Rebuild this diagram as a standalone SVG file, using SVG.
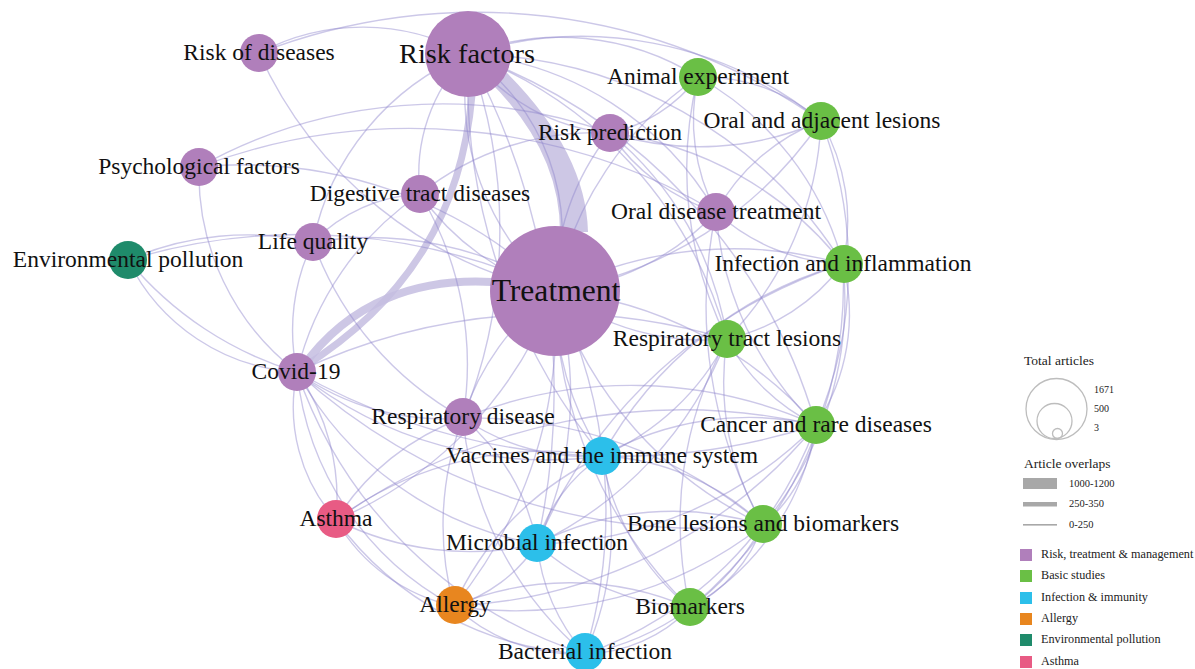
<svg xmlns="http://www.w3.org/2000/svg" width="1195" height="669" viewBox="0 0 1195 669">
<style>
.e{fill:none;stroke:#8d84cc;stroke-opacity:0.45;stroke-width:1.4}
.t{fill:none;stroke:#c4bde0;stroke-opacity:0.85}
.p{fill:#b07fbb}
.g{fill:#6abf45}
.c{fill:#2cbfea}
.o{fill:#e8861f}
.d{fill:#1f8b6b}
.k{fill:#e85b84}
.l{font-family:"Liberation Serif","Times New Roman",serif;font-size:23.5px;fill:#111;text-anchor:middle}
.lg{font-family:"Liberation Serif","Times New Roman",serif;fill:#222}
</style>
<rect width="1195" height="669" fill="#fff"/>
<g id="connectors">
<path d="M488 80 Q560 150 560 232 L588 232 Q586 150 502 68 Z" fill="#c4bde0" fill-opacity="0.85"/>
<path class="t" stroke-width="7" d="M472 95 C462 210 410 300 302 368"/>
<path class="t" stroke-width="8" d="M492 282 C420 278 350 300 302 368"/>
<path class="e" d="M259 53 A220 220 0 0 1 468 54"/>
<path class="e" d="M259 53 A600 600 0 0 1 821 121"/>
<path class="e" d="M468 54 A260 260 0 0 1 698 77"/>
<path class="e" d="M468 54 A380 380 0 0 1 821 121"/>
<path class="e" d="M468 54 A450 450 0 0 1 843 264"/>
<path class="e" d="M468 54 A200 200 0 0 0 610 133"/>
<path class="e" d="M468 54 A320 320 0 0 1 716 212"/>
<path class="e" d="M468 54 A420 420 0 0 1 727 339"/>
<path class="e" d="M468 54 A560 560 0 0 1 816 425"/>
<path class="e" d="M468 54 A170 170 0 0 0 420 194"/>
<path class="e" d="M468 54 A260 260 0 0 0 313 242"/>
<path class="e" d="M468 54 A500 500 0 0 1 463 418"/>
<path class="e" d="M468 54 A600 600 0 0 0 602 456"/>
<path class="e" d="M468 54 A700 700 0 0 1 537 544"/>
<path class="e" d="M468 54 A220 220 0 0 1 555 291"/>
<path class="e" d="M468 54 A260 260 0 0 0 555 291"/>
<path class="e" d="M259 53 A420 420 0 0 0 555 291"/>
<path class="e" d="M199 167 A250 250 0 0 0 297 372"/>
<path class="e" d="M199 167 A450 450 0 0 1 555 291"/>
<path class="e" d="M199 167 A500 500 0 0 1 610 133"/>
<path class="e" d="M199 167 A600 600 0 0 1 716 212"/>
<path class="e" d="M128 260 A200 200 0 0 0 297 372"/>
<path class="e" d="M128 260 A350 350 0 0 0 297 372"/>
<path class="e" d="M128 260 A300 300 0 0 1 313 242"/>
<path class="e" d="M128 260 A600 600 0 0 1 555 291"/>
<path class="e" d="M297 372 A170 170 0 0 0 336 520"/>
<path class="e" d="M297 372 A220 220 0 0 1 336 520"/>
<path class="e" d="M297 372 A300 300 0 0 0 454 606"/>
<path class="e" d="M297 372 A400 400 0 0 0 602 456"/>
<path class="e" d="M297 372 A650 650 0 0 0 816 425"/>
<path class="e" d="M297 372 A600 600 0 0 0 763 525"/>
<path class="e" d="M297 372 A340 340 0 0 0 537 544"/>
<path class="e" d="M297 372 A250 250 0 0 0 463 418"/>
<path class="e" d="M297 372 A200 200 0 0 1 313 242"/>
<path class="e" d="M297 372 A450 450 0 0 0 585 654"/>
<path class="e" d="M297 372 A300 300 0 0 1 420 194"/>
<path class="e" d="M297 372 A600 600 0 0 1 727 339"/>
<path class="e" d="M555 291 A350 350 0 0 1 698 77"/>
<path class="e" d="M555 291 A400 400 0 0 0 821 121"/>
<path class="e" d="M555 291 A250 250 0 0 1 610 133"/>
<path class="e" d="M555 291 A250 250 0 0 0 716 212"/>
<path class="e" d="M555 291 A400 400 0 0 1 843 264"/>
<path class="e" d="M555 291 A250 250 0 0 0 727 339"/>
<path class="e" d="M555 291 A400 400 0 0 1 816 425"/>
<path class="e" d="M555 291 A300 300 0 0 0 602 456"/>
<path class="e" d="M555 291 A400 400 0 0 0 763 525"/>
<path class="e" d="M555 291 A350 350 0 0 1 537 544"/>
<path class="e" d="M555 291 A450 450 0 0 1 454 606"/>
<path class="e" d="M555 291 A450 450 0 0 0 690 608"/>
<path class="e" d="M555 291 A500 500 0 0 1 585 654"/>
<path class="e" d="M555 291 A400 400 0 0 1 336 520"/>
<path class="e" d="M555 291 A250 250 0 0 0 463 418"/>
<path class="e" d="M555 291 A350 350 0 0 0 313 242"/>
<path class="e" d="M555 291 A250 250 0 0 1 420 194"/>
<path class="e" d="M336 520 A180 180 0 0 0 454 606"/>
<path class="e" d="M336 520 A330 330 0 0 0 585 654"/>
<path class="e" d="M336 520 A350 350 0 0 1 602 456"/>
<path class="e" d="M336 520 A250 250 0 0 1 463 418"/>
<path class="e" d="M336 520 A300 300 0 0 0 537 544"/>
<path class="e" d="M336 520 A600 600 0 0 1 816 425"/>
<path class="e" d="M454 606 A150 150 0 0 0 537 544"/>
<path class="e" d="M454 606 A300 300 0 0 1 690 608"/>
<path class="e" d="M454 606 A180 180 0 0 0 585 654"/>
<path class="e" d="M454 606 A400 400 0 0 0 763 525"/>
<path class="e" d="M454 606 A500 500 0 0 0 816 425"/>
<path class="e" d="M454 606 A300 300 0 0 1 463 418"/>
<path class="e" d="M454 606 A300 300 0 0 1 602 456"/>
<path class="e" d="M585 654 A150 150 0 0 0 690 608"/>
<path class="e" d="M585 654 A260 260 0 0 0 763 525"/>
<path class="e" d="M585 654 A380 380 0 0 0 816 425"/>
<path class="e" d="M585 654 A200 200 0 0 1 537 544"/>
<path class="e" d="M585 654 A300 300 0 0 0 602 456"/>
<path class="e" d="M585 654 A350 350 0 0 1 463 418"/>
<path class="e" d="M690 608 A150 150 0 0 0 763 525"/>
<path class="e" d="M690 608 A260 260 0 0 0 816 425"/>
<path class="e" d="M690 608 A420 420 0 0 0 843 264"/>
<path class="e" d="M690 608 A250 250 0 0 1 537 544"/>
<path class="e" d="M690 608 A380 380 0 0 1 727 339"/>
<path class="e" d="M690 608 A250 250 0 0 1 602 456"/>
<path class="e" d="M763 525 A150 150 0 0 0 816 425"/>
<path class="e" d="M763 525 A280 280 0 0 1 727 339"/>
<path class="e" d="M763 525 A350 350 0 0 0 843 264"/>
<path class="e" d="M763 525 A450 450 0 0 1 716 212"/>
<path class="e" d="M763 525 A250 250 0 0 0 602 456"/>
<path class="e" d="M763 525 A300 300 0 0 0 537 544"/>
<path class="e" d="M763 525 A450 450 0 0 0 463 418"/>
<path class="e" d="M816 425 A200 200 0 0 0 843 264"/>
<path class="e" d="M816 425 A400 400 0 0 0 821 121"/>
<path class="e" d="M816 425 A300 300 0 0 0 602 456"/>
<path class="e" d="M816 425 A400 400 0 0 1 537 544"/>
<path class="e" d="M816 425 A200 200 0 0 1 727 339"/>
<path class="e" d="M816 425 A450 450 0 0 0 463 418"/>
<path class="e" d="M816 425 A330 330 0 0 1 716 212"/>
<path class="e" d="M821 121 A180 180 0 0 0 698 77"/>
<path class="e" d="M821 121 A200 200 0 0 1 843 264"/>
<path class="e" d="M821 121 A330 330 0 0 1 727 339"/>
<path class="e" d="M821 121 A300 300 0 0 1 610 133"/>
<path class="e" d="M821 121 A200 200 0 0 0 716 212"/>
<path class="e" d="M698 77 A300 300 0 0 1 843 264"/>
<path class="e" d="M698 77 A200 200 0 0 0 716 212"/>
<path class="e" d="M698 77 A150 150 0 0 1 610 133"/>
<path class="e" d="M698 77 A380 380 0 0 0 727 339"/>
<path class="e" d="M843 264 A200 200 0 0 1 727 339"/>
<path class="e" d="M843 264 A350 350 0 0 0 610 133"/>
<path class="e" d="M843 264 A200 200 0 0 1 716 212"/>
<path class="e" d="M843 264 A400 400 0 0 0 602 456"/>
<path class="e" d="M843 264 A500 500 0 0 0 537 544"/>
<path class="e" d="M537 544 A160 160 0 0 1 602 456"/>
<path class="e" d="M537 544 A380 380 0 0 0 727 339"/>
<path class="e" d="M537 544 A220 220 0 0 0 463 418"/>
<path class="e" d="M602 456 A220 220 0 0 1 463 418"/>
<path class="e" d="M602 456 A250 250 0 0 0 727 339"/>
<path class="e" d="M420 194 A160 160 0 0 0 313 242"/>
<path class="e" d="M420 194 A280 280 0 0 1 610 133"/>
<path class="e" d="M420 194 A330 330 0 0 1 463 418"/>
<path class="e" d="M313 242 A330 330 0 0 0 463 418"/>
<path class="e" d="M610 133 A200 200 0 0 0 716 212"/>
<path class="e" d="M610 133 A330 330 0 0 1 727 339"/>
</g>
<g id="n-risk-of-diseases"><circle class="p" cx="259" cy="53" r="19"/><text class="l" x="259" y="60">Risk of diseases</text></g>
<g id="n-risk-factors"><circle class="p" cx="468" cy="54" r="43"/><text class="l" x="467" y="63" style="font-size:28.3px">Risk factors</text></g>
<g id="n-animal-experiment"><circle class="g" cx="698" cy="77" r="19"/><text class="l" x="698" y="84">Animal experiment</text></g>
<g id="n-oral-adjacent"><circle class="g" cx="821" cy="121" r="19"/><text class="l" x="822" y="128">Oral and adjacent lesions</text></g>
<g id="n-risk-prediction"><circle class="p" cx="610" cy="133" r="19"/><text class="l" x="610" y="140">Risk prediction</text></g>
<g id="n-psychological"><circle class="p" cx="199" cy="167" r="19"/><text class="l" x="199" y="174">Psychological factors</text></g>
<g id="n-digestive"><circle class="p" cx="420" cy="194" r="19"/><text class="l" x="420" y="201">Digestive tract diseases</text></g>
<g id="n-oral-disease-treatment"><circle class="p" cx="716" cy="212" r="19"/><text class="l" x="716" y="219">Oral disease treatment</text></g>
<g id="n-life-quality"><circle class="p" cx="313" cy="242" r="19"/><text class="l" x="313" y="249">Life quality</text></g>
<g id="n-environmental-pollution"><circle class="d" cx="128" cy="260" r="19"/><text class="l" x="128" y="267">Environmental pollution</text></g>
<g id="n-treatment"><circle class="p" cx="555" cy="291" r="65"/><text class="l" x="556" y="301" style="font-size:31.6px">Treatment</text></g>
<g id="n-infection-inflammation"><circle class="g" cx="844" cy="264" r="19"/><text class="l" x="843" y="271">Infection and inflammation</text></g>
<g id="n-respiratory-tract"><circle class="g" cx="727" cy="339" r="19"/><text class="l" x="727" y="346">Respiratory tract lesions</text></g>
<g id="n-covid"><circle class="p" cx="297" cy="372" r="19"/><text class="l" x="296" y="379">Covid-19</text></g>
<g id="n-respiratory-disease"><circle class="p" cx="463" cy="417" r="19"/><text class="l" x="463" y="424">Respiratory disease</text></g>
<g id="n-cancer"><circle class="g" cx="816" cy="425" r="19"/><text class="l" x="816" y="432">Cancer and rare diseases</text></g>
<g id="n-vaccines"><circle class="c" cx="602" cy="456" r="19"/><text class="l" x="602" y="463">Vaccines and the immune system</text></g>
<g id="n-asthma"><circle class="k" cx="336" cy="519" r="19"/><text class="l" x="336" y="526">Asthma</text></g>
<g id="n-bone-lesions"><circle class="g" cx="763" cy="524" r="19"/><text class="l" x="763" y="531">Bone lesions and biomarkers</text></g>
<g id="n-microbial"><circle class="c" cx="537" cy="543" r="19"/><text class="l" x="537" y="550">Microbial infection</text></g>
<g id="n-allergy"><circle class="o" cx="455" cy="605" r="19"/><text class="l" x="455" y="612">Allergy</text></g>
<g id="n-biomarkers"><circle class="g" cx="690" cy="607" r="19"/><text class="l" x="690" y="614">Biomarkers</text></g>
<g id="n-bacterial"><circle class="c" cx="585" cy="652" r="19"/><text class="l" x="585" y="659">Bacterial infection</text></g>
<g id="legend">
<text class="lg" x="1024" y="365" font-size="13.5">Total articles</text>
<circle cx="1056.5" cy="409" r="30.5" fill="none" stroke="#bdbdbd" stroke-width="1.3"/>
<circle cx="1054.5" cy="421" r="17.5" fill="none" stroke="#bdbdbd" stroke-width="1.3"/>
<circle cx="1057.5" cy="433.5" r="5" fill="none" stroke="#bdbdbd" stroke-width="1.3"/>
<text class="lg" x="1094" y="393" font-size="10">1671</text>
<text class="lg" x="1094" y="412" font-size="10">500</text>
<text class="lg" x="1094" y="431" font-size="10">3</text>
<text class="lg" x="1024" y="468" font-size="13.5">Article overlaps</text>
<rect x="1023" y="478" width="34" height="11" fill="#a8a8a8"/>
<rect x="1023" y="502" width="34" height="4.5" fill="#a8a8a8"/>
<rect x="1023" y="524" width="34" height="1.6" fill="#a8a8a8"/>
<text class="lg" x="1069" y="487" font-size="10.5">1000-1200</text>
<text class="lg" x="1069" y="507" font-size="10.5">250-350</text>
<text class="lg" x="1069" y="528" font-size="10.5">0-250</text>
<rect x="1020" y="549" width="12" height="12" class="p"/>
<rect x="1020" y="570" width="12" height="12" class="g"/>
<rect x="1020" y="592" width="12" height="12" class="c"/>
<rect x="1020" y="613" width="12" height="12" class="o"/>
<rect x="1020" y="634" width="12" height="12" class="d"/>
<rect x="1020" y="656" width="12" height="12" class="k"/>
<text class="lg" x="1041" y="558" font-size="12.2">Risk, treatment &amp; management</text>
<text class="lg" x="1041" y="579" font-size="12.2">Basic studies</text>
<text class="lg" x="1041" y="601" font-size="12.2">Infection &amp; immunity</text>
<text class="lg" x="1041" y="622" font-size="12.2">Allergy</text>
<text class="lg" x="1041" y="643" font-size="12.2">Environmental pollution</text>
<text class="lg" x="1041" y="665" font-size="12.2">Asthma</text>
</g>
</svg>
